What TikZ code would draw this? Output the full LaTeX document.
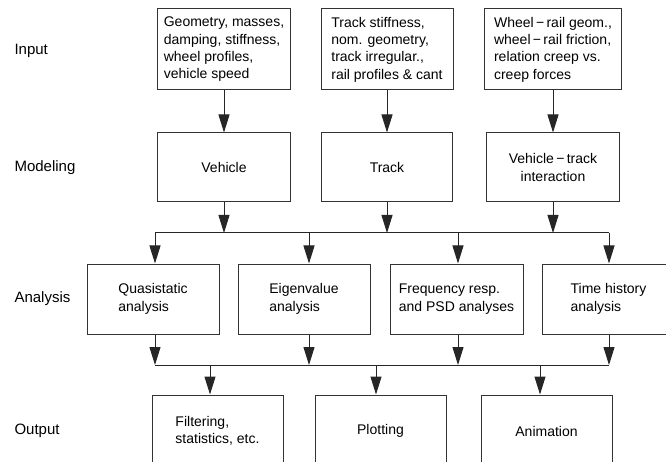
\documentclass[tikz,border=0pt]{standalone}
\usepackage{fontspec}
\setmainfont{Liberation Sans}
\usetikzlibrary{arrows.meta}

\tikzset{
  box/.style={draw=black!80, line width=1pt, inner sep=3pt, align=left,
    font=\fontsize{14}{17.3}\selectfont},
  stage/.style={anchor=west, font=\fontsize{15}{18}\selectfont},
  flow/.style={draw=black!85, line width=1pt, -{Triangle[length=18pt,width=11pt]}},
  bus/.style={draw=black!85, line width=1pt}
}

\begin{document}
\begin{tikzpicture}[x=1pt, y=-1pt]
\clip (0,0) rectangle (666,462);

% Row labels
\node[stage] (lin)  at (11,51)  {Input};
\node[stage] (lmod) at (11,168) {Modeling};
\node[stage] (lan)  at (11,299) {Analysis};
\node[stage] (lout) at (11,431) {Output};

% Input
\node[box, minimum width=133pt, minimum height=81pt] (in1) at (224,49.5)
  {Geometry, masses,\\damping, stiffness,\\wheel profiles,\\vehicle speed};
\node[box, minimum width=132pt, minimum height=81pt] (in2) at (387,49.5)
  {Track stiffness,\\nom. geometry,\\track irregular.,\\rail profiles \& cant};
\node[box, minimum width=137pt, minimum height=81pt] (in3) at (553,49.5)
  {Wheel\,−\,rail geom.,\\wheel\,−\,rail friction,\\relation creep vs.\\creep forces};

% Modeling
\node[box, minimum width=133pt, minimum height=69pt] (mod1) at (224,167.5) {Vehicle};
\node[box, minimum width=131pt, minimum height=69pt] (mod2) at (387,167.5) {Track};
\node[box, minimum width=133pt, minimum height=69pt, align=center] (mod3) at (553,167.5)
  {Vehicle\,−\,track\\interaction};

% Analysis
\node[box, minimum width=132pt, minimum height=70pt] (an1) at (153,299) {Quasistatic\\analysis};
\node[box, minimum width=132pt, minimum height=70pt] (an2) at (304,299) {Eigenvalue\\analysis};
\node[box, minimum width=133pt, minimum height=70pt] (an3) at (456.5,299) {Frequency resp.\\and PSD analyses};
\node[box, minimum width=133pt, minimum height=70pt] (an4) at (608.5,299) {Time history\\analysis};

% Output
\node[box, minimum width=131pt, minimum height=72pt] (out1) at (217.5,431) {Filtering,\\statistics, etc.};
\node[box, minimum width=131pt, minimum height=72pt] (out2) at (380.5,431) {Plotting};
\node[box, minimum width=131pt, minimum height=72pt] (out3) at (546.5,431) {Animation};

% Bus junctions
\coordinate (t1) at (155,233);
\coordinate (t2) at (309,233);
\coordinate (t3) at (458,233);
\coordinate (t4) at (609,233);
\coordinate (u1) at (155,365);
\coordinate (u4) at (609,365);
\coordinate (v1) at (210,365);
\coordinate (v2) at (376,365);
\coordinate (v3) at (540,365);

% Input -> modeling
\foreach \i in {1,2,3}
  \draw[flow] (in\i.south) -- (mod\i.north);

% Modeling -> first bus
\draw[bus] (t1) -- (t4);
\foreach \i in {1,2,3}
  \draw[flow] (mod\i.south) -- (mod\i.south |- t1);

% First bus -> analysis -> second bus
\draw[bus] (u1) -- (u4);
\foreach \i in {1,2,3,4} {
  \draw[flow] (t\i) -- (t\i |- an\i.north);
  \draw[flow] (t\i |- an\i.south) -- (t\i |- u1);
}

% Second bus -> output
\foreach \i in {1,2,3}
  \draw[flow] (v\i) -- (v\i |- out\i.north);
\end{tikzpicture}
\end{document}
